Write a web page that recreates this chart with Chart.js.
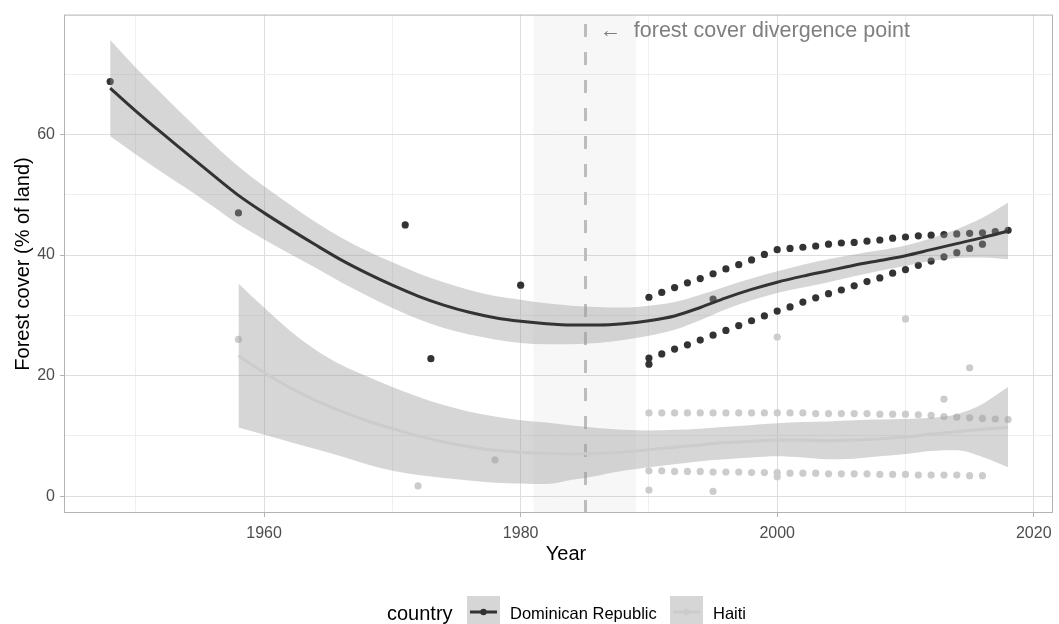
<!DOCTYPE html>
<html><head><meta charset="utf-8">
<script src="https://cdn.jsdelivr.net/npm/chart.js@4.4.0/dist/chart.umd.min.js"></script>
<style>html,body{margin:0;padding:0;background:#fff;}canvas{display:block;}</style>
</head><body>
<canvas id="c" width="1059" height="624"></canvas>
<script>
// ---------- data ----------
const countries = ['Dominican Republic', 'Haiti'];

const xTickValues = [1950, 1960, 1970, 1980, 1990, 2000, 2010, 2020];
const xTickLabels = ['', '1960', '', '1980', '', '2000', '', '2020'];
const yTickValues = [0, 10, 20, 30, 40, 50, 60, 70];
const yTickLabels = ['0', '', '20', '', '40', '', '60', ''];

// Dominican Republic observations
const drYearsA = [1990,1991,1992,1993,1994,1995,1996,1997,1998,1999,2000,2001,2002,2003,2004,2005,2006,2007,2008,2009,2010,2011,2012,2013,2014,2015,2016,2017,2018];
const drValuesA = [33.0,33.8,34.6,35.4,36.1,36.9,37.7,38.4,39.2,40.1,40.9,41.1,41.3,41.5,41.8,42.0,42.1,42.3,42.5,42.8,43.0,43.2,43.3,43.4,43.5,43.6,43.7,43.9,44.1];
const drYearsB = [1990,1991,1992,1993,1994,1995,1996,1997,1998,1999,2000,2001,2002,2003,2004,2005,2006,2007,2008,2009,2010,2011,2012,2013,2014,2015,2016];
const drValuesB = [22.9,23.6,24.4,25.1,25.9,26.7,27.5,28.3,29.1,29.9,30.7,31.4,32.2,32.9,33.6,34.2,34.9,35.6,36.2,37.0,37.6,38.3,39.0,39.7,40.4,41.1,41.8];
const drYearsExtra = [1948,1958,1971,1973,1980,1990,1995];
const drValuesExtra = [68.8,47.0,45.0,22.8,35.0,21.9,32.7];

// Haiti observations
const htYearsA = [1990,1991,1992,1993,1994,1995,1996,1997,1998,1999,2000,2001,2002,2003,2004,2005,2006,2007,2008,2009,2010,2011,2012,2013,2014,2015,2016,2017,2018];
const htValuesA = [13.8,13.8,13.8,13.8,13.8,13.8,13.8,13.8,13.8,13.8,13.8,13.8,13.8,13.7,13.7,13.7,13.7,13.7,13.6,13.6,13.6,13.5,13.4,13.2,13.1,13.0,12.9,12.8,12.7];
const htYearsB = [1990,1991,1992,1993,1994,1995,1996,1997,1998,1999,2000,2001,2002,2003,2004,2005,2006,2007,2008,2009,2010,2011,2012,2013,2014,2015,2016];
const htValuesB = [4.2,4.2,4.1,4.1,4.1,4.0,4.0,4.0,3.9,3.9,3.9,3.8,3.8,3.8,3.7,3.7,3.7,3.7,3.6,3.6,3.6,3.5,3.5,3.5,3.5,3.4,3.4];
const htYearsExtra = [1958,1972,1978,1990,1995,2000,2000,2010,2013,2015];
const htValuesExtra = [26.0,1.7,6.0,1.0,0.8,26.4,3.2,29.4,16.1,21.3];

// loess smooth
const drSmoothYears = [1948,1950,1952,1954,1956,1958,1960,1962,1964,1966,1968,1970,1972,1974,1976,1978,1980,1982,1984,1986,1988,1990,1992,1994,1996,1998,2000,2002,2004,2006,2008,2010,2012,2014,2016,2018];
const drSmoothFit = [67.7,63.9,60.3,56.8,53.3,49.9,47.0,44.3,41.7,39.2,37.0,35.0,33.2,31.7,30.5,29.6,29.0,28.6,28.4,28.4,28.6,29.1,29.9,31.3,32.9,34.3,35.5,36.5,37.4,38.3,39.1,39.9,40.9,41.9,42.9,44.0];
const drSmoothHigh = [75.7,71.1,66.8,62.6,58.5,54.7,51.4,48.4,45.5,42.9,40.7,38.8,37.0,35.5,34.2,33.2,32.6,32.0,31.6,31.4,31.3,31.6,32.2,33.4,34.8,36.1,37.3,38.4,39.3,40.1,40.8,41.6,42.8,44.3,46.2,48.7];
const drSmoothLow = [59.7,56.7,53.8,51.0,48.1,45.1,42.6,40.2,37.9,35.5,33.3,31.2,29.4,27.9,26.8,26.0,25.4,25.2,25.2,25.4,25.9,26.6,27.6,29.2,31.0,32.5,33.7,34.6,35.5,36.5,37.4,38.2,39.0,39.5,39.6,39.3];

const htSmoothYears = [1958,1960,1962,1964,1966,1968,1970,1972,1974,1976,1978,1980,1982,1984,1986,1988,1990,1992,1994,1996,1998,2000,2002,2004,2006,2008,2010,2012,2014,2016,2018];
const htSmoothFit = [23.3,20.5,18.0,15.9,14.1,12.5,11.2,10.0,9.0,8.2,7.6,7.3,7.1,7.0,7.1,7.3,7.7,8.1,8.5,8.9,9.1,9.3,9.3,9.2,9.3,9.5,9.8,10.3,10.7,11.1,11.4];
const htSmoothHigh = [35.3,31.3,27.5,24.3,21.8,19.9,18.1,16.5,15.1,14.0,13.2,12.6,12.2,11.7,11.3,11.0,10.9,11.0,11.2,11.5,11.8,12.1,12.3,12.4,12.6,12.7,12.8,13.0,13.6,15.3,18.1];
const htSmoothLow = [11.4,10.2,9.0,7.8,6.6,5.3,4.2,3.5,3.0,2.6,2.2,2.1,2.0,2.7,3.4,4.2,4.8,5.3,5.8,6.1,6.4,6.6,6.4,6.1,6.2,6.6,7.0,7.5,7.6,6.5,4.8];

const divergenceYear = 1985;
const bandStart = 1981;
const bandEnd = 1989;
const annotationArrow = '\u2190';
const annotationText = 'forest cover divergence point';
const xTitle = 'Year';
const yTitle = 'Forest cover (% of land)';
const legendTitle = 'country';

// ---------- styling ----------
const FONT = '"Liberation Sans", Arial, Helvetica, sans-serif';
const DR_COL = '#333333';
const HT_COL = '#cccccc';
const RIBBON = 'rgba(153,153,153,0.4)';
const NONE = 'rgba(0,0,0,0)';

function pts(xs, ys) { return xs.map((x, i) => ({x: x, y: ys[i]})); }

function lineDs(xs, ys, color) {
  return {data: pts(xs, ys), showLine: true, borderColor: color, borderWidth: 3,
    pointRadius: 0, cubicInterpolationMode: 'monotone', fill: false, order: 1};
}
function ribbonDs(xs, ys, fill) {
  return {data: pts(xs, ys), showLine: true, borderColor: NONE, borderWidth: 0,
    backgroundColor: RIBBON, pointRadius: 0, cubicInterpolationMode: 'monotone', fill: fill, order: 2};
}
function pointDs(xs, ys, color) {
  return {data: pts(xs, ys), showLine: false, pointRadius: 3.6, pointBorderWidth: 0,
    pointBackgroundColor: color, backgroundColor: color, borderColor: color, order: 3};
}

const datasets = [
  lineDs(drSmoothYears, drSmoothFit, DR_COL),
  lineDs(htSmoothYears, htSmoothFit, HT_COL),
  ribbonDs(drSmoothYears, drSmoothHigh, '+1'),
  ribbonDs(drSmoothYears, drSmoothLow, false),
  ribbonDs(htSmoothYears, htSmoothHigh, '+1'),
  ribbonDs(htSmoothYears, htSmoothLow, false),
  pointDs(drYearsA, drValuesA, DR_COL),
  pointDs(drYearsB, drValuesB, DR_COL),
  pointDs(drYearsExtra, drValuesExtra, DR_COL),
  pointDs(htYearsA, htValuesA, HT_COL),
  pointDs(htYearsB, htValuesB, HT_COL),
  pointDs(htYearsExtra, htValuesExtra, HT_COL)
];

const decor = {
  id: 'decor',
  beforeDatasetsDraw(chart) {
    const {ctx, chartArea: a, scales: {x}} = chart;
    ctx.save();
    ctx.fillStyle = 'rgba(0,0,0,0.03)';
    const b0 = x.getPixelForValue(bandStart), b1 = x.getPixelForValue(bandEnd);
    ctx.fillRect(b0, a.top, b1 - b0, a.bottom - a.top);
    const dx = Math.round(x.getPixelForValue(divergenceYear)) + 0.5;
    ctx.strokeStyle = '#bdbdbd';
    ctx.lineWidth = 3;
    ctx.setLineDash([13, 15]);
    ctx.beginPath();
    ctx.moveTo(dx, a.bottom);
    ctx.lineTo(dx, a.top);
    ctx.stroke();
    ctx.restore();
  },
  afterDatasetsDraw(chart) {
    const {ctx, chartArea: a} = chart;
    ctx.save();
    ctx.strokeStyle = '#b3b3b3';
    ctx.lineWidth = 1;
    ctx.strokeRect(a.left + 0.5, a.top + 0.5, a.right - a.left - 1, a.bottom - a.top - 1);
    ctx.restore();
  },
  afterDraw(chart) {
    const {ctx, chartArea: a, scales: {x}} = chart;
    ctx.save();
    // annotation
    const ax = x.getPixelForValue(divergenceYear);
    ctx.fillStyle = '#7f7f7f';
    ctx.font = '21.5px ' + FONT;
    ctx.textAlign = 'left';
    ctx.textBaseline = 'alphabetic';
    ctx.fillText(annotationArrow, ax + 15, 37);
    ctx.fillText(annotationText, ax + 49, 37);
    // axis titles
    ctx.fillStyle = '#000000';
    ctx.font = '20px ' + FONT;
    ctx.textAlign = 'center';
    ctx.fillText(xTitle, 566, 560);
    ctx.save();
    ctx.translate(29, 264);
    ctx.rotate(-Math.PI / 2);
    ctx.fillText(yTitle, 0, 0);
    ctx.restore();
    // legend
    ctx.textAlign = 'left';
    ctx.font = '20px ' + FONT;
    ctx.fillText(legendTitle, 387, 620);
    const keys = [{x: 467, col: DR_COL, label: countries[0], tx: 510},
                  {x: 670, col: HT_COL, label: countries[1], tx: 713}];
    keys.forEach(k => {
      ctx.fillStyle = '#d6d6d6';
      ctx.fillRect(k.x, 596, 33, 33);
      ctx.strokeStyle = k.col;
      ctx.lineWidth = 3;
      ctx.beginPath();
      ctx.moveTo(k.x + 3, 612);
      ctx.lineTo(k.x + 30, 612);
      ctx.stroke();
      ctx.fillStyle = k.col;
      ctx.beginPath();
      ctx.arc(k.x + 16.5, 612, 3.2, 0, Math.PI * 2);
      ctx.fill();
      ctx.fillStyle = '#000000';
      ctx.font = '16.5px ' + FONT;
      ctx.fillText(k.label, k.tx, 619);
    });
    ctx.restore();
  }
};

Chart.defaults.font.family = FONT;

new Chart(document.getElementById('c'), {
  type: 'scatter',
  data: {datasets: datasets},
  options: {
    responsive: false,
    animation: false,
    devicePixelRatio: 1,
    events: [],
    layout: {padding: {top: 14, right: 6, left: 0, bottom: 0}},
    plugins: {legend: {display: false}, tooltip: {enabled: false}},
    scales: {
      x: {
        type: 'linear', min: 1944.4, max: 2021.5,
        afterBuildTicks: s => { s.ticks = xTickValues.map(v => ({value: v})); },
        afterFit: s => { s.height = 111; },
        ticks: {
          autoSkip: false, maxRotation: 0, padding: 7, color: '#4d4d4d', font: {size: 16},
          callback: (v, i) => xTickLabels[i]
        },
        grid: {
          color: c => (c.tick && xTickLabels[xTickValues.indexOf(c.tick.value)] !== '') ? '#dedede' : '#efefef',
          lineWidth: 1,
          tickColor: c => (c.tick && xTickLabels[xTickValues.indexOf(c.tick.value)] !== '') ? '#b3b3b3' : NONE,
          tickLength: 4, drawTicks: true
        },
        border: {display: false}
      },
      y: {
        type: 'linear', min: -2.8, max: 79.9,
        afterBuildTicks: s => { s.ticks = yTickValues.map(v => ({value: v})); },
        afterFit: s => { s.width = 64; },
        ticks: {
          autoSkip: false, padding: 5, color: '#4d4d4d', font: {size: 16},
          callback: (v, i) => yTickLabels[i]
        },
        grid: {
          color: c => (c.tick && yTickLabels[yTickValues.indexOf(c.tick.value)] !== '') ? '#dedede' : '#efefef',
          lineWidth: 1,
          tickColor: c => (c.tick && yTickLabels[yTickValues.indexOf(c.tick.value)] !== '') ? '#b3b3b3' : NONE,
          tickLength: 4, drawTicks: true
        },
        border: {display: false}
      }
    }
  },
  plugins: [decor]
});
</script>
</body></html>
